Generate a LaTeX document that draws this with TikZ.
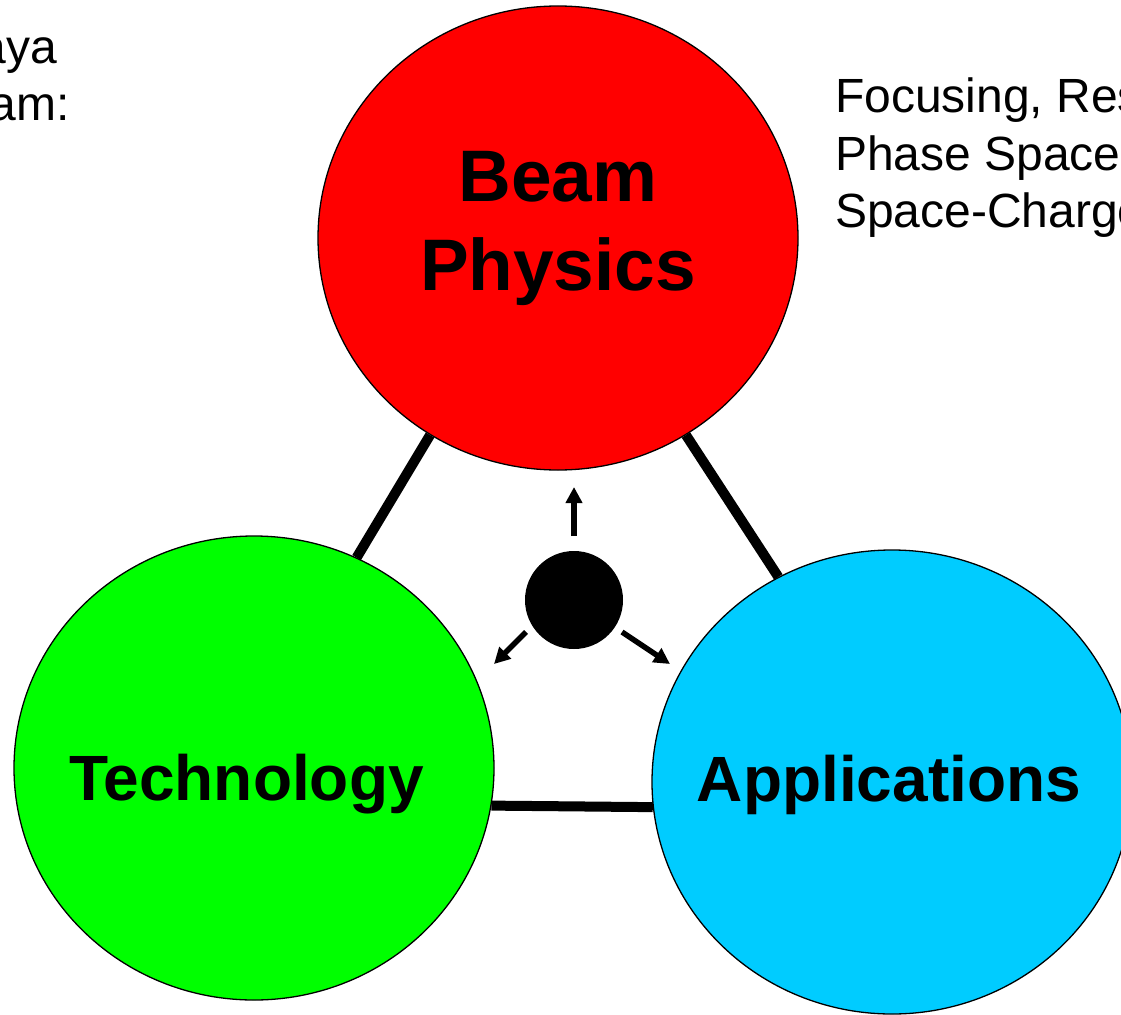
\documentclass[tikz,border=0pt]{standalone}
\usepackage{fontspec}
\setmainfont{Liberation Sans}
\usetikzlibrary{shapes.geometric,arrows.meta,backgrounds}
\definecolor{bpred}{HTML}{FF0000}
\definecolor{tcgreen}{HTML}{00FF00}
\definecolor{apblue}{HTML}{00CCFF}
\tikzset{
  field/.style={ellipse, draw=black, line width=1.3pt, inner ysep=0pt, inner xsep=-80pt,
                minimum width=480pt, minimum height=464pt, align=center},
  bigtitle/.style={font=\bfseries\fontsize{73}{89}\selectfont},
  midtitle/.style={font=\bfseries\fontsize{64}{76}\selectfont},
  sidetext/.style={font=\fontsize{48}{57}\selectfont, inner sep=0pt},
  link/.style={line width=10pt, line cap=butt},
  push/.style={line width=5.5pt, -{Triangle[length=16pt,width=16pt]}}
}
\begin{document}
\begin{tikzpicture}[x=1pt, y=-1pt]
  \useasboundingbox (0,0) rectangle (1121,1014);
  \clip (0,0) rectangle (1121,1014);

  % the three fields
  \node[field, fill=bpred, bigtitle, text depth=34pt] (bp) at (558,238) {Beam\\Physics};
  \node[field, fill=tcgreen, midtitle, text height=78pt, text depth=14pt] (tc) at (254,768) {\kern-15pt Technology};
  \node[field, fill=apblue, midtitle, text height=52pt, text depth=14pt] (ap) at (892,782) {\kern-6pt Applications};

  % thick links between the fields
  \begin{scope}[on background layer]
    \draw[link] (bp.237) -- (tc.64);
    \draw[link] (bp.303) -- (ap.119);
    \draw[link] (tc.-9.6) -- (ap.186.3);
  \end{scope}

  % central dot with its three arrows
  \node[circle, fill=black, minimum size=98pt, inner sep=0pt] (core) at (574,600) {};
  \coordinate (tipbp) at (574,487);
  \coordinate (tiptc) at (494,664);
  \coordinate (tipap) at (670,664);
  \coordinate (tailbp) at (574,536);
  \coordinate (tailtc) at (526,632);
  \coordinate (tailap) at (622,632);
  \draw[push] (tailbp) -- (tipbp);
  \draw[push] (tailtc) -- (tiptc);
  \draw[push] (tailap) -- (tipap);

  % side texts
  \node[sidetext, anchor=base east] (l1) at (57,64) {aya};
  \node[sidetext, anchor=base east] (l2) at (70,121) {am:};
  \node[sidetext, anchor=base west] (r1) at (835,113) {Focusing, Res};
  \node[sidetext, anchor=base west] (r2) at (835,170) {Phase Space};
  \node[sidetext, anchor=base west] (r3) at (835,227) {Space-Charge};
\end{tikzpicture}
\end{document}
